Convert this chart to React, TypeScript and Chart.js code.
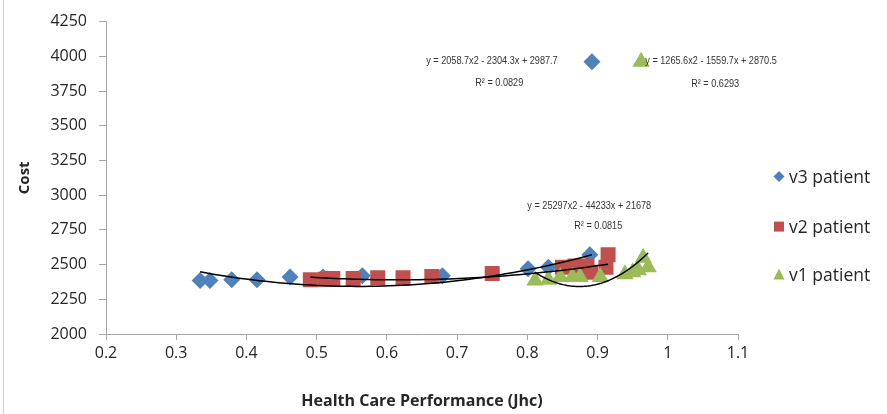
import React, { useEffect, useRef } from "react";
import { Chart, registerables } from "chart.js";

Chart.register(...registerables);

// ---- data ----
const v3X = [0.334, 0.348, 0.379, 0.415, 0.462, 0.509, 0.565, 0.679, 0.801, 0.830, 0.889, 0.892];
const v3Y = [2385, 2385, 2390, 2390, 2410, 2410, 2420, 2420, 2470, 2480, 2570, 3960];

const v2X = [0.491, 0.512, 0.523, 0.552, 0.587, 0.623, 0.664, 0.750, 0.850, 0.868, 0.885, 0.890, 0.912, 0.915];
const v2Y = [2390, 2395, 2400, 2400, 2405, 2405, 2415, 2435, 2480, 2490, 2490, 2445, 2480, 2570];

const v1X = [0.811, 0.830, 0.847, 0.864, 0.875, 0.904, 0.939, 0.950, 0.958, 0.962, 0.965, 0.972];
const v1Y = [2385, 2390, 2410, 2410, 2410, 2410, 2430, 2445, 2460, 3960, 2550, 2480];

// polynomial (order 2) trendline coefficients shown on the chart: a, b, c
const v3Trend = [2058.7, -2304.3, 2987.7];
const v2Trend = [1265.6, -1559.7, 2870.5];
const v1Trend = [25297, -44233, 21678];

const seriesNames = ["v3 patient", "v2 patient", "v1 patient"];
const seriesColors = ["#4F81BD", "#C0504D", "#9BBB59"];

const eqTexts = [
  "y = 2058.7x2 - 2304.3x + 2987.7",
  "R² = 0.0829",
  "y = 1265.6x2 - 1559.7x + 2870.5",
  "R² = 0.6293",
  "y = 25297x2 - 44233x + 21678",
  "R² = 0.0815",
];
const eqX = [0.656, 0.760, 0.968, 1.0675, 0.800, 0.901];
const eqY = [3970, 3805, 3963, 3798, 2924, 2781];
const eqAlign = ["left", "center", "left", "center", "left", "center"];

const xMin = 0.2, xMax = 1.1, xStep = 0.1;
const yMin = 2000, yMax = 4250, yStep = 250;

const FONT = "'Open Sans', 'Liberation Sans', sans-serif";

function pts(xs: number[], ys: number[]) {
  return xs.map((x, i) => ({ x, y: ys[i] }));
}

function trend(xs: number[], coef: number[]) {
  const lo = Math.min(...xs);
  const hi = Math.max(...xs);
  const n = 60;
  const out: { x: number; y: number }[] = [];
  for (let i = 0; i <= n; i++) {
    const x = lo + ((hi - lo) * i) / n;
    out.push({ x, y: coef[0] * x * x + coef[1] * x + coef[2] });
  }
  return out;
}

const annotationPlugin = {
  id: "eqLabels",
  afterDraw(chart: any) {
    const ctx = chart.ctx;
    const xs = chart.scales.x;
    const ys = chart.scales.y;
    ctx.save();
    ctx.fillStyle = "#333333";
    ctx.font = "11px 'Liberation Sans', Arial, sans-serif";
    ctx.textBaseline = "middle";
    const sx = 0.83;
    eqTexts.forEach((t, i) => {
      const px = xs.getPixelForValue(eqX[i]);
      const py = ys.getPixelForValue(eqY[i]);
      const w = ctx.measureText(t).width * sx;
      const left = eqAlign[i] === "center" ? px - w / 2 : px;
      ctx.save();
      ctx.translate(left, py);
      ctx.scale(sx, 1);
      ctx.textAlign = "left";
      ctx.fillText(t, 0, 0);
      ctx.restore();
    });
    ctx.restore();
  },
};

const legendPlugin = {
  id: "customLegend",
  afterDraw(chart: any) {
    const ctx = chart.ctx;
    const area = chart.chartArea;
    const mx = area.right + 41;
    const tx = area.right + 51;
    const rows = [area.top + 155, area.top + 205, area.top + 253];
    ctx.save();
    ctx.font = "17.5px " + FONT;
    ctx.textBaseline = "middle";
    ctx.textAlign = "left";
    seriesNames.forEach((name, i) => {
      const y = rows[i];
      ctx.fillStyle = seriesColors[i];
      ctx.beginPath();
      if (i === 0) {
        ctx.moveTo(mx - 5.5, y);
        ctx.lineTo(mx, y - 5.5);
        ctx.lineTo(mx + 5.5, y);
        ctx.lineTo(mx, y + 5.5);
      } else if (i === 1) {
        ctx.rect(mx - 5, y - 5, 10, 10);
      } else {
        ctx.moveTo(mx, y - 6);
        ctx.lineTo(mx + 5.5, y + 5);
        ctx.lineTo(mx - 5.5, y + 5);
      }
      ctx.closePath();
      ctx.fill();
      ctx.fillStyle = "#262626";
      ctx.fillText(name, tx, y + 1);
    });
    ctx.restore();
  },
};

const borderPlugin = {
  id: "frameLine",
  beforeDraw(chart: any) {
    const ctx = chart.ctx;
    ctx.save();
    ctx.fillStyle = "#ffffff";
    ctx.fillRect(0, 0, chart.width, chart.height);
    ctx.strokeStyle = "#d0d0d0";
    ctx.lineWidth = 1;
    ctx.beginPath();
    ctx.moveTo(3.5, 0);
    ctx.lineTo(3.5, chart.height);
    ctx.stroke();
    ctx.restore();
  },
};

export default function App() {
  const ref = useRef<HTMLCanvasElement | null>(null);

  useEffect(() => {
    if (!ref.current) return;
    const trendStyle = {
      type: "line" as const,
      showLine: true,
      pointRadius: 0,
      borderColor: "#000000",
      borderWidth: 1.5,
      fill: false,
      tension: 0,
      order: 0,
    };
    const chart = new Chart(ref.current, {
      type: "scatter",
      data: {
        datasets: [
          { ...trendStyle, label: "trend v3", data: trend(v3X, v3Trend) },
          { ...trendStyle, label: "trend v2", data: trend(v2X, v2Trend) },
          { ...trendStyle, label: "trend v1", data: trend(v1X, v1Trend) },
          {
            label: seriesNames[2],
            data: pts(v1X, v1Y),
            pointStyle: "triangle",
            pointRadius: 10,
            backgroundColor: seriesColors[2],
            borderColor: seriesColors[2],
            borderWidth: 0,
            order: 1,
          },
          {
            label: seriesNames[1],
            data: pts(v2X, v2Y),
            pointStyle: "rect",
            pointRadius: 10.6,
            backgroundColor: seriesColors[1],
            borderColor: seriesColors[1],
            borderWidth: 0,
            order: 2,
          },
          {
            label: seriesNames[0],
            data: pts(v3X, v3Y),
            pointStyle: "rectRot",
            pointRadius: 8.5,
            backgroundColor: seriesColors[0],
            borderColor: seriesColors[0],
            borderWidth: 0,
            order: 3,
          },
        ] as any,
      },
      options: {
        animation: false,
        responsive: false,
        events: [],
        layout: { padding: { left: 0, top: 20, right: 149, bottom: 0 } },
        plugins: {
          legend: { display: false },
          tooltip: { enabled: false },
        },
        scales: {
          x: {
            type: "linear",
            min: xMin,
            max: xMax,
            afterFit(scale: any) {
              scale.height = 80;
            },
            ticks: {
              stepSize: xStep,
              color: "#262626",
              font: { family: FONT, size: 16 },
              padding: 4,
              callback: (v: any) => String(Number(Number(v).toFixed(1))),
            },
            grid: {
              display: true,
              drawOnChartArea: false,
              drawTicks: true,
              tickLength: 6,
              color: "#a6a6a6",
            },
            border: { display: true, color: "#a6a6a6", width: 1 },
            title: {
              display: true,
              text: "Health Care Performance (Jhc)",
              color: "#262626",
              font: { family: FONT, size: 16, weight: "bold" },
              padding: { top: 0, bottom: 3 },
            },
          },
          y: {
            type: "linear",
            min: yMin,
            max: yMax,
            afterFit(scale: any) {
              scale.width = 106;
            },
            ticks: {
              stepSize: yStep,
              color: "#262626",
              font: { family: FONT, size: 16 },
              padding: 12,
              callback: (v: any) => String(v),
            },
            grid: {
              display: true,
              drawOnChartArea: false,
              drawTicks: true,
              tickLength: 7,
              color: "#a6a6a6",
            },
            border: { display: true, color: "#a6a6a6", width: 1 },
            title: {
              display: true,
              text: "Cost",
              color: "#262626",
              font: { family: FONT, size: 15, weight: "bold" },
              padding: { top: 16, bottom: 0 },
            },
          },
        },
      } as any,
      plugins: [borderPlugin, annotationPlugin, legendPlugin],
    });
    return () => chart.destroy();
  }, []);

  return (
    <div style={{ position: "absolute", left: 0, top: 0, width: 887, height: 414 }}>
      <canvas ref={ref} width={887} height={414} style={{ display: "block" }} />
    </div>
  );
}
